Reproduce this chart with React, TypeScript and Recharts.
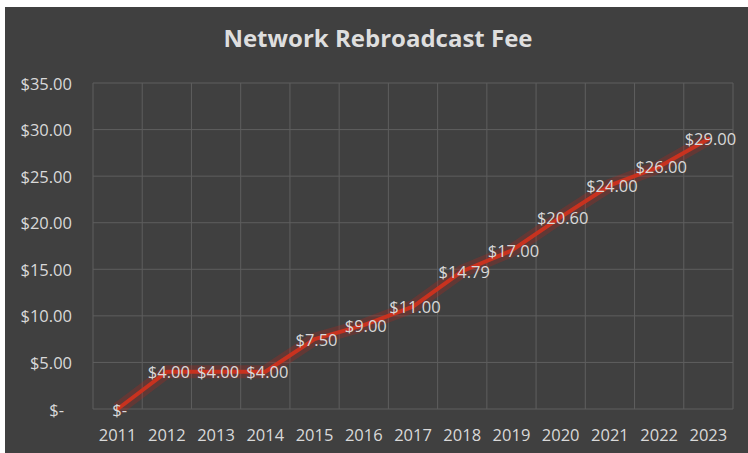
import React from 'react';
import {
  LineChart,
  Line,
  XAxis,
  YAxis,
  CartesianGrid,
  LabelList
} from 'recharts';

const years = ['2011', '2012', '2013', '2014', '2015', '2016', '2017', '2018', '2019', '2020', '2021', '2022', '2023'];
const fees = [0, 4, 4, 4, 7.5, 9, 11, 14.79, 17, 20.6, 24, 26, 29];
const yTicks = [0, 5, 10, 15, 20, 25, 30, 35];

const data = years.map((year, i) => ({ year, fee: fees[i] }));

const TEXT = '#d9d9d9';
const FONT = '"Open Sans", sans-serif';

// Excel accounting style: zero shows as "$-"
const fmtMoney = (v: number): string => (v === 0 ? '$-' : `$${v.toFixed(2)}`);

const YTick: React.FC<any> = ({ x, y, payload }) => {
  const v = Number(payload?.value ?? 0);
  return (
    <text x={v === 0 ? x - 8 : x} y={y} textAnchor="end" dominantBaseline="central" fill={TEXT} fontSize={16.5} fontFamily={FONT}>
      {fmtMoney(v)}
    </text>
  );
};

const PointLabel: React.FC<any> = ({ x, y, value }) => (
  <text x={x + 2} y={y} textAnchor="middle" dominantBaseline="central" fill={TEXT} fontSize={16.5} fontFamily={FONT}>
    {fmtMoney(Number(value))}
  </text>
);

// vertical grid lines sit on category boundaries, not centres
const boundaryLines = ({ offset }: any) => {
  const n = years.length;
  return Array.from({ length: n + 1 }, (_, i) => offset.left + (i * offset.width) / n);
};

export default function App() {
  return (
    <div style={{ position: 'absolute', left: 0, top: 0, width: 748, height: 453, background: '#fff' }}>
      <div style={{ position: 'absolute', left: 5, top: 7, right: 0, bottom: 0, background: '#404040' }} />
      <div
        style={{
          position: 'absolute',
          left: 0,
          top: 22,
          width: 756,
          textAlign: 'center',
          color: '#dedede',
          fontFamily: FONT,
          fontWeight: 700,
          fontSize: 24,
          lineHeight: '32px'
        }}
      >
        Network Rebroadcast Fee
      </div>
      <div style={{ position: 'absolute', left: 0, top: 0 }}>
        <LineChart width={748} height={453} data={data} margin={{ top: 83, right: 15, left: 0, bottom: 14 }}>
          <CartesianGrid stroke="#5e5e5e" strokeWidth={1} verticalCoordinatesGenerator={boundaryLines} />
          <XAxis
            dataKey="year"
            scale="band"
            axisLine={false}
            tickLine={false}
            tickSize={0}
            tickMargin={20}
            height={30}
            interval={0}
            tick={{ fill: TEXT, fontSize: 16.5, fontFamily: FONT }}
          />
          <YAxis
            domain={[0, 35]}
            ticks={yTicks}
            axisLine={false}
            tickLine={false}
            tickSize={0}
            tickMargin={21}
            width={93}
            tick={<YTick />}
          />
          {/* soft glow under the main line */}
          <Line
            dataKey="fee"
            stroke="#b3281e"
            strokeOpacity={0.3}
            strokeWidth={13}
            dot={false}
            activeDot={false}
            isAnimationActive={false}
          />
          <Line
            dataKey="fee"
            stroke="#c8321f"
            strokeWidth={4}
            strokeLinejoin="round"
            strokeLinecap="round"
            dot={false}
            activeDot={false}
            isAnimationActive={false}
          >
            <LabelList dataKey="fee" content={<PointLabel />} />
          </Line>
        </LineChart>
      </div>
    </div>
  );
}
